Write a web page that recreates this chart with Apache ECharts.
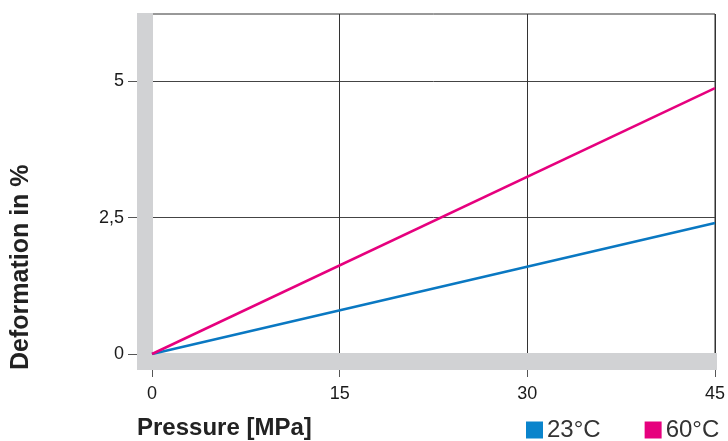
<!DOCTYPE html>
<html><head><meta charset="utf-8">
<script src="https://cdn.jsdelivr.net/npm/echarts@6/dist/echarts.min.js"></script>
<style>html,body{margin:0;padding:0;background:#fff}#c{width:728px;height:441px}</style>
</head><body><div id="c"></div>
<script>
const pressure = [0, 45];
const def23 = [0, 2.40];
const def60 = [0, 4.87];
const seriesNames = ['23°C', '60°C'];
const xTicks = [0, 15, 30, 45];
const yTicks = [0, 2.5, 5];
const yMax = 6.23;

const FONT = 'Liberation Sans, Arial, sans-serif';
const chart = echarts.init(document.getElementById('c'), null, {renderer: 'canvas'});
const toPairs = (xs, ys) => xs.map((x, i) => [x, ys[i]]);

chart.setOption({
  animation: false,
  grid: {left: 152, right: 12, top: 14, bottom: 87, show: true, borderColor: '#333', borderWidth: 1, backgroundColor: 'transparent'},
  legend: {
    left: 526, right: 0, top: 418, padding: 0, itemWidth: 17, itemHeight: 17, itemGap: 44, icon: 'rect',
    textStyle: {fontSize: 24, color: '#333', fontFamily: FONT, padding: [2, 0, 0, -1]},
    data: seriesNames
  },
  xAxis: {
    type: 'value', min: 0, max: 45, interval: 15,
    axisLine: {show: true, onZero: false, lineStyle: {color: '#555', width: 1}},
    axisTick: {show: true, length: 23, lineStyle: {color: '#555', width: 1}},
    axisLabel: {margin: 31, fontSize: 18, color: '#1a1a1a', fontFamily: FONT, customValues: xTicks, formatter: v => String(v)},
    splitLine: {show: true, lineStyle: {color: '#333', width: 1}}
  },
  yAxis: {
    type: 'value', min: 0, max: yMax, interval: 2.5,
    axisLine: {show: true, lineStyle: {color: '#555', width: 1}},
    axisTick: {show: true, length: 24, lineStyle: {color: '#555', width: 1}, customValues: yTicks},
    axisLabel: {margin: 28, fontSize: 18, color: '#1a1a1a', fontFamily: FONT, customValues: yTicks,
      formatter: v => String(v).replace('.', ',')},
    splitLine: {show: true, lineStyle: {color: '#444', width: 1}}
  },
  series: [
    {name: seriesNames[0], type: 'line', data: toPairs(pressure, def23), showSymbol: false, z: 5,
      lineStyle: {color: '#0a78c2', width: 2.5}, itemStyle: {color: '#0a84cc'}},
    {name: seriesNames[1], type: 'line', data: toPairs(pressure, def60), showSymbol: false, z: 5,
      lineStyle: {color: '#e6007e', width: 2.5}, itemStyle: {color: '#e6007e'}}
  ]
});

const p0 = chart.convertToPixel({gridIndex: 0}, [0, 0]);
const p1 = chart.convertToPixel({gridIndex: 0}, [45, yMax]);
const band = '#d1d2d4';
chart.setOption({
  graphic: [
    {type: 'rect', z: 1, shape: {x: p0[0] - 15, y: p1[1] - 1, width: 16, height: p0[1] + 17 - p1[1]}, style: {fill: band}},
    {type: 'rect', z: 1, shape: {x: p0[0] - 15, y: p0[1] - 1, width: p1[0] + 2 - (p0[0] - 15), height: 17}, style: {fill: band}},
    {type: 'text', z: 10, left: 137, top: 416, style: {text: 'Pressure [MPa]', font: 'bold 24px ' + FONT, fill: '#222'}},
    {type: 'text', z: 10, x: 9, y: 370, rotation: Math.PI / 2,
      style: {text: 'Deformation in %', font: 'bold 25px ' + FONT, fill: '#222', textAlign: 'left', textVerticalAlign: 'top'}}
  ]
});
</script></body></html>
